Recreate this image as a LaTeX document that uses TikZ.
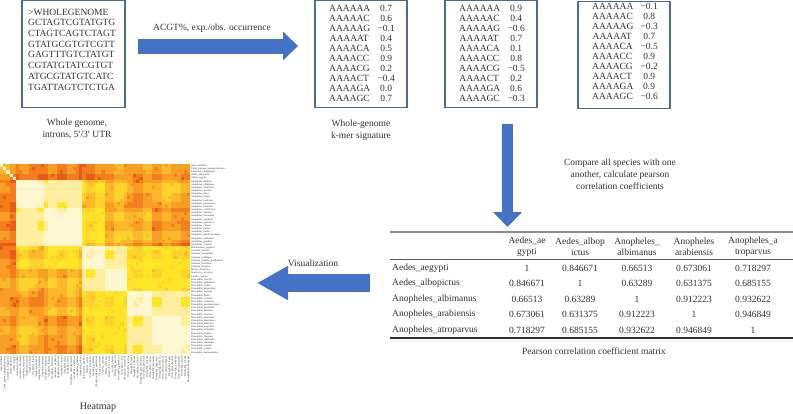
\documentclass[tikz,border=0pt]{standalone}
\usepackage{fontspec}
\setmainfont{Liberation Serif}
\usepackage{array}
\usetikzlibrary{arrows.meta}
\definecolor{boxc}{HTML}{4B6A96}
\definecolor{arr}{HTML}{4472C4}
\definecolor{txt}{HTML}{303030}
\definecolor{rulec}{HTML}{8C8C8C}
\definecolor{hc0}{HTML}{FFF6D2}
\definecolor{hc1}{HTML}{FFEEA0}
\definecolor{hc2}{HTML}{FFE428}
\definecolor{hc3}{HTML}{FED22C}
\definecolor{hc4}{HTML}{FBB82A}
\definecolor{hc5}{HTML}{F89E24}
\definecolor{hc6}{HTML}{F27E1E}
\definecolor{hc7}{HTML}{E85B1B}
\newcolumntype{C}[1]{>{\centering\arraybackslash}p{#1}}
\def\hmgrp#1{\ifnum#1<5 \def\hg{0}\else\ifnum#1<14 \def\hg{1}\else\ifnum#1<26 \def\hg{2}\else\ifnum#1<33 \def\hg{3}\else\ifnum#1<40 \def\hg{4}\else\ifnum#1<48 \def\hg{5}\else\def\hg{6}\fi\fi\fi\fi\fi\fi}
\def\hbset#1#2#3{\expandafter\def\csname hb#1#2\endcsname{#3}\expandafter\def\csname hb#2#1\endcsname{#3}}
\hbset00{5}\hbset01{6}\hbset02{6}\hbset03{6}\hbset04{5}\hbset05{5}\hbset06{5}
\hbset11{0}\hbset12{1}\hbset13{3}\hbset14{4}\hbset15{5}\hbset16{4}
\hbset22{0}\hbset23{2}\hbset24{4}\hbset25{4}\hbset26{5}
\hbset33{0}\hbset34{1}\hbset35{2}\hbset36{2}
\hbset44{0}\hbset45{2}\hbset46{2}
\hbset55{0}\hbset56{1}
\hbset66{0}
\tikzset{
  gbox/.style={draw=boxc, line width=1.1pt, inner sep=0pt},
  btxt/.style={inner sep=0pt, text=txt, font=\fontsize{9.5}{10}\selectfont},
  capt/.style={inner sep=0pt, text=txt, align=center, font=\fontsize{9.5}{12}\selectfont},
  tcell/.style={inner sep=0pt, text=txt, font=\fontsize{9.5}{12}\selectfont},
  hlab/.style={inner sep=0pt, text=txt, font=\fontsize{2.6}{3}\selectfont}
}
\begin{document}
\begin{tikzpicture}[x=1pt,y=-1pt]
\useasboundingbox (0,0) rectangle (793,413);
% ---------- box 1
\node[gbox, minimum width=103pt, minimum height=107pt] (b1) at (73.5,54) {};
\node[btxt, anchor=north west, font=\fontsize{9.5}{10.7}\selectfont] (t1) at (28,7.5)
 {\begin{tabular}{@{}l@{}}\textgreater WHOLEGENOME\\GCTAGTCGTATGTG\\CTAGTCAGTCTAGT\\GTATGCGTGTCGTT\\GAGTTTGTCTATGT\\CGTATGTATCGTGT\\ATGCGTATGTCATC\\TGATTAGTCTCTGA\end{tabular}};
\node[capt] (c1) at (77,129) {Whole genome,\\introns, 5′/3′ UTR};
% ---------- k-mer boxes
\node[gbox, minimum width=92pt, minimum height=107pt] (b2) at (361,54) {};
\node[gbox, minimum width=92pt, minimum height=107pt] (b3) at (491,54) {};
\node[gbox, minimum width=92pt, minimum height=107pt] (b4) at (624,55) {};
\node[btxt, anchor=north west] (t2) at (329,3.8) {\begin{tabular}{@{}C{40pt}@{}C{34pt}@{}}
AAAAAA&0.7\\AAAAAC&0.6\\AAAAAG&−0.1\\AAAAAT&0.4\\AAAACA&0.5\\AAAACC&0.9\\AAAACG&0.2\\AAAACT&−0.4\\AAAAGA&0.0\\AAAAGC&0.7\end{tabular}};
\node[btxt, anchor=north west] (t3) at (459,3.8) {\begin{tabular}{@{}C{40pt}@{}C{34pt}@{}}
AAAAAA&0.9\\AAAAAC&0.4\\AAAAAG&−0.6\\AAAAAT&0.7\\AAAACA&0.1\\AAAACC&0.8\\AAAACG&−0.5\\AAAACT&0.2\\AAAAGA&0.6\\AAAAGC&−0.3\end{tabular}};
\node[btxt, anchor=north west] (t4) at (592,2.3) {\begin{tabular}{@{}C{40pt}@{}C{34pt}@{}}
AAAAAA&−0.1\\AAAAAC&0.8\\AAAAAG&−0.3\\AAAAAT&0.7\\AAAACA&−0.5\\AAAACC&0.9\\AAAACG&−0.2\\AAAACT&0.9\\AAAAGA&0.9\\AAAAGC&−0.6\end{tabular}};
\node[capt] (c2) at (361,130) {Whole-genome\\k-mer signature};
% ---------- arrow 1
\coordinate (a1s) at (138,46);
\coordinate (a1e) at (298,46);
\draw[arr, line width=15pt, -{Triangle[length=15pt,width=28pt]}] (a1s) -- (a1e);
\node[tcell] (l1) at (212,28) {ACGT\%, exp./obs. occurrence};
% ---------- down arrow
\coordinate (a2s) at (507.5,124);
\coordinate (a2e) at (507.5,227);
\draw[arr, line width=11pt, -{Triangle[length=15pt,width=28pt]}] (a2s) -- (a2e);
\node[capt] (l2) at (620,174) {Compare all species with one\\another, calculate pearson\\correlation coefficients};
% ---------- table
\coordinate (rt1) at (390,231.5);
\coordinate (rt2) at (793,231.5);
\coordinate (rm1) at (390,259);
\coordinate (rm2) at (793,259);
\coordinate (rb1) at (390,338);
\coordinate (rb2) at (793,338);
\draw[rulec, line width=2pt] (rt1) -- (rt2);
\draw[txt!80, line width=0.9pt] (rm1) -- (rm2);
\draw[txt, line width=1.2pt] (rb1) -- (rb2);
\foreach \x/\h [count=\c] in {527/{Aedes\_ae\\gypti},580/{Aedes\_albop\\ictus},637/{Anopheles\_\\albimanus},694/{Anopheles\\arabiensis},753/{Anopheles\_a\\troparvus}}
  \node[tcell, align=center, font=\fontsize{9.5}{11.5}\selectfont] (h\c) at (\x,246.5) {\h};
\foreach \y/\lab/\va/\vb/\vc/\vd/\ve [count=\r] in {
 268/Aedes\_aegypti/1/0.846671/0.66513/0.673061/0.718297,
 283.5/Aedes\_albopictus/0.846671/1/0.63289/0.631375/0.685155,
 299/Anopheles\_albimanus/0.66513/0.63289/1/0.912223/0.932622,
 314.5/Anopheles\_arabiensis/0.673061/0.631375/0.912223/1/0.946849,
 330/Anopheles\_atroparvus/0.718297/0.685155/0.932622/0.946849/1}{
  \node[tcell, anchor=west] (r\r) at (392,\y) {\lab};
  \node[tcell] (r\r c1) at (527,\y) {\va};
  \node[tcell] (r\r c2) at (580,\y) {\vb};
  \node[tcell] (r\r c3) at (637,\y) {\vc};
  \node[tcell] (r\r c4) at (694,\y) {\vd};
  \node[tcell] (r\r c5) at (753,\y) {\ve};
}
\node[tcell] (c3) at (594,351) {Pearson correlation coefficient matrix};
% ---------- left arrow
\coordinate (a3s) at (370,283);
\coordinate (a3e) at (257,283);
\draw[arr, line width=18pt, -{Triangle[length=31pt,width=32pt]}] (a3s) -- (a3e);
\node[tcell] (l3) at (313,263) {Visualization};
% ---------- heatmap
\def\hs{3.1667}
\foreach \i in {0,...,59}{%
 \hmgrp{\i}\let\gi\hg
 \pgfmathtruncatemacro\oi{mod(floor(\i/3)*37+11,5)-2}%
 \foreach \j in {0,...,59}{%
  \hmgrp{\j}\let\gj\hg
  \pgfmathtruncatemacro\oj{mod(floor(\j/3)*37+11,5)-2}%
  \pgfmathtruncatemacro\lv{\csname hb\gi\gj\endcsname}%
  \pgfmathtruncatemacro\sm{\oi+\oj}%
  \pgfmathtruncatemacro\nz{mod(\i*\j+5*(\i+\j),13)}%
  \ifnum\lv>1
    \pgfmathtruncatemacro\lv{max(min(\lv+round(\sm/3),7),2)}%
    \ifnum\nz=0 \pgfmathtruncatemacro\lv{min(\lv+1,7)}\fi
  \else
    \ifnum\sm>2 \pgfmathtruncatemacro\lv{\lv+1}\fi
  \fi
  \ifnum\i=25 \ifnum\lv>1 \pgfmathtruncatemacro\lv{min(\lv+1,7)}\fi\fi
  \ifnum\j=25 \ifnum\lv>1 \pgfmathtruncatemacro\lv{min(\lv+1,7)}\fi\fi
  \ifnum\i=\j \def\lv{0}\fi
  \fill[hc\lv] (\j*\hs,164+\i*\hs) rectangle ++(\hs+0.3,\hs+0.3);
 }}
\node[inner sep=0pt, minimum width=190pt, minimum height=190pt] (hm) at (95,259) {};
\foreach \nm [count=\k from 0] in {Apis\_mellifera,Culex\_pipiens\_quinquefasciatus,Lutzomyia\_longipalpis,Aedes\_albopictus,Aedes\_aegypti,Anopheles\_darlingi,Anopheles\_albimanus,Anopheles\_atroparvus,Anopheles\_sinensis,Anopheles\_dirus,Anopheles\_farauti,Anopheles\_koliensis,Anopheles\_punctulatus,Anopheles\_minimus,Anopheles\_culicifacies,Anopheles\_funestus,Anopheles\_maculatus,Anopheles\_stephensi,Anopheles\_epiroticus,Anopheles\_christyi,Anopheles\_melas,Anopheles\_merus,Anopheles\_quadriannulatus,Anopheles\_arabiensis,Anopheles\_gambiae,Anopheles\_coluzzii,Phlebotomus\_papatasi,Glossina\_austeni,Glossina\_brevipalpis,Glossina\_pallidipes,Glossina\_palpalis\_gambiensis,Glossina\_morsitans,Glossina\_fuscipes,Musca\_domestica,Stomoxys\_calcitrans,Lucilia\_cuprina,Drosophila\_busckii,Drosophila\_grimshawi,Drosophila\_virilis,Drosophila\_mojavensis,Drosophila\_navojoa,Drosophila\_hydei,Drosophila\_arizonae,Drosophila\_willistoni,Drosophila\_pseudoobscura,Drosophila\_persimilis,Drosophila\_miranda,Drosophila\_obscura,Drosophila\_ananassae,Drosophila\_bipectinata,Drosophila\_kikkawai,Drosophila\_eugracilis,Drosophila\_ficusphila,Drosophila\_elegans,Drosophila\_rhopaloa,Drosophila\_takahashii,Drosophila\_biarmipes,Drosophila\_suzukii,Drosophila\_yakuba,Drosophila\_melanogaster}{
  \node[hlab, anchor=west] (yl\k) at (191,164+\k*\hs+0.5*\hs) {\nm};
  \node[hlab, anchor=east, rotate=90] (xl\k) at (\k*\hs+0.5*\hs,356) {\nm};
}
\node[tcell, font=\fontsize{10}{12}\selectfont] (c4) at (98,407) {Heatmap};
\end{tikzpicture}
\end{document}
